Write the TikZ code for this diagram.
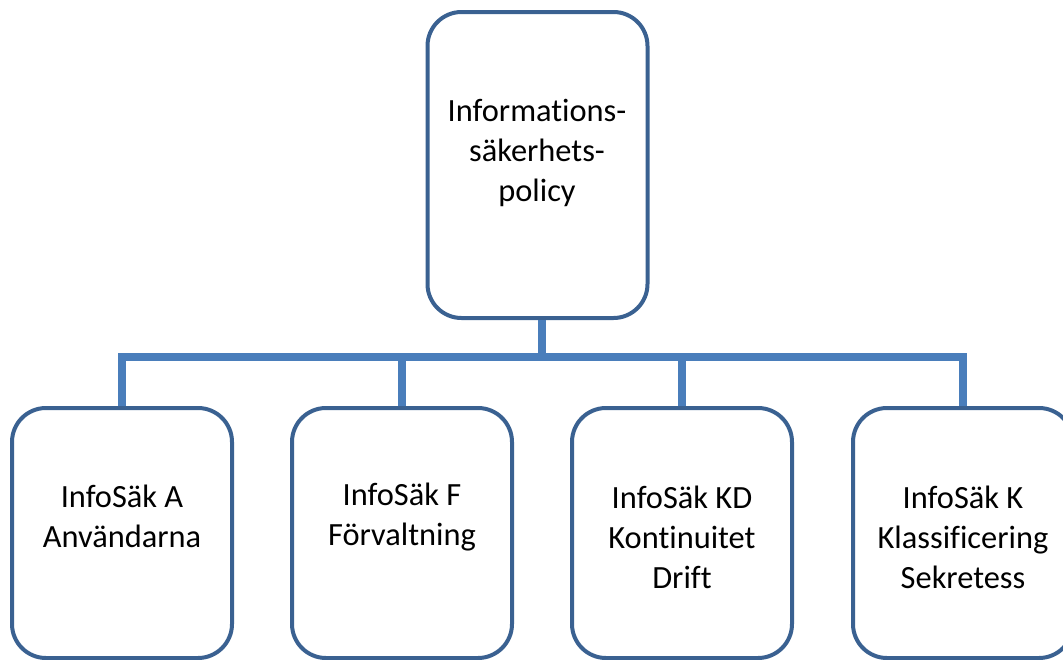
\documentclass[tikz,border=0pt]{standalone}
\usepackage{fontspec}
\setmainfont{Carlito}[RawFeature={-liga;-clig;-dlig;-calt}]
\definecolor{boxline}{HTML}{3A6191}
\definecolor{connline}{HTML}{4A7EBB}
\begin{document}
\begin{tikzpicture}[x=1pt,y=-1pt,
  box/.style={draw=boxline, line width=4pt, fill=white, rectangle, rounded corners=34pt, minimum width=220pt, inner sep=0pt},
  topbox/.style={box, minimum height=306pt},
  botbox/.style={box, minimum height=250pt},
  conn/.style={draw=connline, line width=8.5pt},
  lbl/.style={align=center, font=\fontsize{32.4}{40}\selectfont, text=black, inner sep=0pt}]
\useasboundingbox (0,0) rectangle (1063,659);
\clip (0,0) rectangle (1063,659);
\fill[white] (0,0) rectangle (1063,659);
\node[topbox] (top) at (537.5,165) {};
\node[botbox] (a) at (122,533) {};
\node[botbox] (f) at (402,533) {};
\node[botbox] (kd) at (682,533) {};
\node[botbox] (k) at (963,533) {};
\coordinate (bus) at (542,357);
\foreach \n in {a,f,kd,k}{
  \draw[conn] (top.south -| bus) -- (bus) -| (\n.north);
}
\node[lbl] (tt) at (537,153) {Informations-\\säkerhets-\\policy};
\node[lbl] (ta) at (122,516) {InfoSäk A\\Användarna};
\node[lbl] (tf) at (402,517) {InfoSäk F\\Förvaltning};
\node[lbl] (tkd) at (682,537) {InfoSäk KD\\Kontinuitet\\Drift};
\node[lbl] (tk) at (963,537) {InfoSäk K\\Klassificering\\Sekretess};
\end{tikzpicture}
\end{document}
